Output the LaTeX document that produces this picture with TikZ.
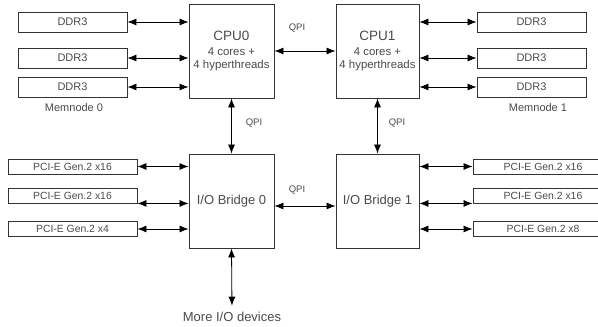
\documentclass[tikz,border=0pt]{standalone}
\usepackage{fontspec}
\setmainfont{Liberation Sans}
\usetikzlibrary{arrows.meta}
\definecolor{TextGray}{HTML}{4A4A4A}
\definecolor{EdgeGray}{HTML}{333333}
\newcommand\Fs[1]{\fontsize{#1}{1.17\dimexpr#1pt\relax}\selectfont}
\tikzset{
    chip/.style={draw=EdgeGray,line width=0.9pt,text=TextGray,align=center,
        minimum width=#1,minimum height=94pt,inner sep=0pt},
    slot/.style={draw=EdgeGray,line width=0.9pt,text=TextGray,font=\Fs{10.4},
        minimum width=#1,inner sep=0pt},
    tag/.style={text=TextGray,font=\Fs{9.5},inner sep=1pt},
    dbl/.style={line width=0.8pt,{Latex[length=9pt,width=7pt]}-{Latex[length=9pt,width=7pt]}},
}
\newcommand\Link[2]{%
    \draw[dbl] (#1) -- (#2);
}
\begin{document}
\begin{tikzpicture}[x=1pt,y=-1pt]
    \useasboundingbox (0,0) rectangle (598,327);
    \clip (0,0) rectangle (598,327);
    % processors and bridges
    \node[chip=85pt,font=\Fs{11.4}] (Cpu0) at (231.5,51) {{\Fs{13.5}CPU0}\\[1pt]
        4 cores +\\4 hyperthreads};
    \node[chip=83pt,font=\Fs{11.4}] (Cpu1) at (377.5,51) {{\Fs{13.5}CPU1}\\[1pt]
        4 cores +\\4 hyperthreads};
    \node[chip=85pt,font=\Fs{13}] (Bridge0) at (231.5,201) {I/O Bridge 0};
    \node[chip=83pt,font=\Fs{13}] (Bridge1) at (377.5,201) {I/O Bridge 1};
    % memory
    \foreach \y/\n in {22/a,58/b,87/c} {
        \node[slot=109pt,minimum height=20pt,font=\Fs{11}] (DdrL\n) at (72.5,\y) {DDR3};
        \node[slot=109pt,minimum height=20pt,font=\Fs{11}] (DdrR\n) at (531.5,\y) {DDR3};
        \Link{DdrL\n.east}{DdrL\n.east -| Cpu0.west}
        \Link{Cpu1.east |- DdrR\n.west}{DdrR\n.west}
    }
    \node[text=TextGray,font=\Fs{11}] (Mem0) at (74,108) {Memnode 0};
    \node[text=TextGray,font=\Fs{11}] (Mem1) at (538,108) {Memnode 1};
    % pci-e slots
    \node[slot=129pt,minimum height=15pt] (PciLa) at (72.5,166.5) {PCI-E Gen.2 x16};
    \node[slot=129pt,minimum height=15pt] (PciLb) at (72.5,195.5) {PCI-E Gen.2 x16};
    \node[slot=129pt,minimum height=15pt] (PciLc) at (72.5,229) {PCI-E Gen.2 x4};
    \node[slot=140pt,minimum height=15pt] (PciRa) at (543,166.5) {PCI-E Gen.2 x16\hspace{11pt}};
    \node[slot=140pt,minimum height=15pt] (PciRb) at (543,195.5) {PCI-E Gen.2 x16\hspace{11pt}};
    \node[slot=140pt,minimum height=15pt] (PciRc) at (543,229) {PCI-E Gen.2 x8\hspace{11pt}};
    \Link{PciLa.east}{PciLa.east -| Bridge0.west}
    \Link{PciLb.south east}{PciLb.south east -| Bridge0.west}
    \Link{PciLc.east}{PciLc.east -| Bridge0.west}
    \Link{Bridge1.east |- PciRa.west}{PciRa.west}
    \Link{Bridge1.east |- PciRb.south west}{PciRb.south west}
    \Link{Bridge1.east |- PciRc.west}{PciRc.west}
    % QPI links
    \Link{Cpu0.east}{Cpu1.west}
    \node[tag] (QpiTop) at (297,28) {QPI};
    \Link{Cpu0.south}{Bridge0.north}
    \node[tag] (QpiLeft) at (254,123) {QPI};
    \Link{Cpu1.south}{Bridge1.north}
    \node[tag] (QpiRight) at (397,123) {QPI};
    \Link{[yshift=-5pt]Bridge0.east}{[yshift=-5pt]Bridge1.west}
    \node[tag] (QpiMid) at (297,190) {QPI};
    % other devices
    \node[text=TextGray,font=\Fs{13}] (MoreIO) at (232,317) {More I/O devices};
    \draw[dbl,shorten >=3pt] (Bridge0.south) -- (MoreIO.north);
\end{tikzpicture}
\end{document}
